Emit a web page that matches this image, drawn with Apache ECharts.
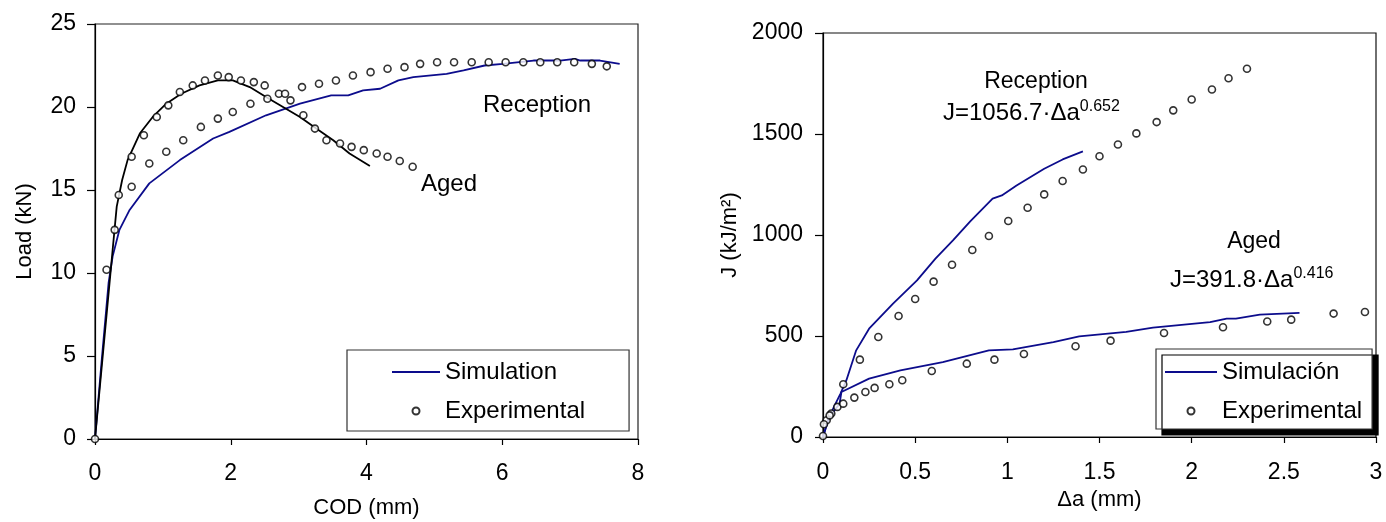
<!DOCTYPE html>
<html>
<head>
<meta charset="utf-8">
<script src="https://cdn.jsdelivr.net/npm/echarts@6/dist/echarts.min.js"></script>
<style>
  html, body { margin: 0; padding: 0; background: #fff; }
  #left { position: absolute; left: 0; top: 0; width: 693px; height: 522px; }
  #right { position: absolute; left: 693px; top: 0; width: 693px; height: 522px; }
</style>
</head>
<body>
<div id="left"></div>
<div id="right"></div>
<script>
// ---------- Left chart: Load vs COD ----------
const codTicks = [0, 2, 4, 6, 8];
const loadTicks = [0, 5, 10, 15, 20, 25];

const codSimReceptionX = [0, 0.1, 0.2, 0.26, 0.36, 0.51, 0.80, 1.25, 1.74, 1.98, 2.52, 3.02, 3.48, 3.73, 3.95, 4.20, 4.47, 4.69, 5.18, 5.43, 5.74, 6.01, 6.46, 6.85, 7.07, 7.15, 7.44, 7.73];
const codSimReceptionY = [0, 4.8, 9.4, 11.0, 12.6, 13.8, 15.4, 16.8, 18.1, 18.5, 19.5, 20.2, 20.7, 20.7, 21.0, 21.1, 21.6, 21.8, 22.0, 22.2, 22.5, 22.6, 22.8, 22.8, 22.9, 22.8, 22.8, 22.6];

const codSimAgedX = [0, 0.26, 0.32, 0.40, 0.48, 0.66, 0.85, 1.05, 1.27, 1.54, 1.81, 2.03, 2.28, 2.52, 2.77, 3.02, 3.26, 3.51, 3.75, 4.05];
const codSimAgedY = [0, 11.4, 14.0, 15.6, 16.8, 18.4, 19.4, 20.2, 20.8, 21.3, 21.6, 21.6, 21.2, 20.6, 20.0, 19.4, 18.7, 18.0, 17.2, 16.45];

const codExpAgedX = [0, 0.17, 0.29, 0.35, 0.54, 0.72, 0.91, 1.08, 1.25, 1.44, 1.62, 1.81, 1.97, 2.15, 2.34, 2.50, 2.71, 2.88, 3.07, 3.24, 3.41, 3.61, 3.78, 3.96, 4.15, 4.31, 4.49, 4.68];
const codExpAgedY = [0, 10.2, 12.6, 14.7, 17.0, 18.3, 19.4, 20.1, 20.9, 21.3, 21.6, 21.9, 21.8, 21.6, 21.5, 21.3, 20.8, 20.4, 19.5, 18.7, 18.0, 17.8, 17.6, 17.4, 17.2, 17.0, 16.75, 16.4];

const codExpReceptionX = [0.54, 0.80, 1.05, 1.30, 1.56, 1.81, 2.03, 2.29, 2.54, 2.80, 3.05, 3.30, 3.55, 3.80, 4.06, 4.31, 4.56, 4.79, 5.04, 5.29, 5.55, 5.80, 6.05, 6.31, 6.56, 6.81, 7.06, 7.32, 7.54];
const codExpReceptionY = [15.2, 16.6, 17.3, 18.0, 18.8, 19.3, 19.7, 20.2, 20.5, 20.8, 21.2, 21.4, 21.6, 21.9, 22.1, 22.3, 22.4, 22.6, 22.7, 22.7, 22.7, 22.7, 22.7, 22.7, 22.7, 22.7, 22.7, 22.6, 22.45];

// ---------- Right chart: J vs Δa ----------
const daTicks = [0, 0.5, 1, 1.5, 2, 2.5, 3];
const jTicks = [0, 500, 1000, 1500, 2000];

const jSimReceptionX = [0, 0.03, 0.06, 0.095, 0.127, 0.18, 0.25, 0.38, 0.51, 0.61, 0.705, 0.80, 0.92, 0.97, 1.05, 1.20, 1.30, 1.41];
const jSimReceptionY = [0, 90, 150, 215, 281, 429, 536, 660, 775, 883, 973, 1069, 1180, 1196, 1245, 1328, 1374, 1414];

const jSimAgedX = [0, 0.027, 0.063, 0.09, 0.10, 0.25, 0.42, 0.65, 0.90, 1.03, 1.25, 1.39, 1.645, 1.79, 2.10, 2.19, 2.24, 2.37, 2.585];
const jSimAgedY = [0, 83, 132, 165, 223, 289, 330, 371, 429, 434, 470, 498, 520, 541, 569, 586, 586, 606, 614];

const jExpReceptionX = [0, 0.02, 0.045, 0.11, 0.20, 0.30, 0.41, 0.50, 0.60, 0.70, 0.81, 0.90, 1.005, 1.11, 1.20, 1.30, 1.41, 1.50, 1.60, 1.70, 1.81, 1.90, 2.00, 2.11, 2.20, 2.30];
const jExpReceptionY = [5, 83, 116, 261, 383, 495, 599, 683, 769, 853, 926, 995, 1069, 1135, 1201, 1267, 1324, 1390, 1448, 1503, 1559, 1617, 1671, 1720, 1776, 1823];

const jExpAgedX = [0.005, 0.036, 0.078, 0.11, 0.17, 0.23, 0.28, 0.36, 0.43, 0.59, 0.78, 0.93, 1.09, 1.37, 1.56, 1.85, 2.17, 2.41, 2.54, 2.77, 2.94];
const jExpAgedY = [63, 107, 149, 165, 195, 223, 243, 261, 281, 327, 363, 383, 411, 449, 477, 515, 543, 572, 581, 611, 619];

// ---------- helpers ----------
const FONT = "'Liberation Sans', Arial, Helvetica, sans-serif";
const BLUE = '#0c0c8c';
const LINE_ICON = 'path://M0,0L48,0L48,2L0,2Z';
function pairs(xs, ys) { return xs.map((x, i) => [x, ys[i]]); }

function valueAxis(ticks, name, nameGap, labelMargin, tickLen) {
  return {
    type: 'value',
    min: ticks[0],
    max: ticks[ticks.length - 1],
    interval: ticks[1] - ticks[0],
    name: name,
    nameLocation: 'middle',
    nameGap: nameGap,
    nameTextStyle: { fontFamily: FONT, fontSize: 22, color: '#000' },
    axisLine: { show: true, onZero: false, lineStyle: { color: '#000', width: 1.2 } },
    axisTick: { show: true, inside: false, length: tickLen, lineStyle: { color: '#000', width: 1.2 } },
    axisLabel: { fontFamily: FONT, fontSize: 23, color: '#000', margin: labelMargin, formatter: v => String(v) },
    splitLine: { show: false }
  };
}

function lineSeries(name, xs, ys, color) {
  return {
    name: name, type: 'line', data: pairs(xs, ys),
    symbol: 'none', showSymbol: false, smooth: false,
    lineStyle: { color: color, width: 1.8 },
    itemStyle: { color: color },
    z: 2
  };
}
function expSeries(name, xs, ys) {
  return {
    name: name, type: 'scatter', data: pairs(xs, ys),
    symbol: 'circle', symbolSize: 7,
    itemStyle: { color: '#fff', borderColor: '#000', borderWidth: 1.6 },
    z: 3
  };
}
function label(text, x, y, size) {
  return { type: 'text', x: x, y: y, z: 10,
    style: { text: text, fontFamily: FONT, fontSize: size, fill: '#000', textAlign: 'center', textVerticalAlign: 'middle' } };
}
function formula(main, sup, x, y) {
  return { type: 'text', x: x, y: y, z: 10,
    style: {
      text: '{m|' + main + '}{s|' + sup + '}',
      textAlign: 'left', textVerticalAlign: 'middle',
      rich: {
        m: { fontFamily: FONT, fontSize: 24, fill: '#000', lineHeight: 28, verticalAlign: 'middle' },
        s: { fontFamily: FONT, fontSize: 16, fill: '#000', lineHeight: 16, verticalAlign: 'top' }
      }
    } };
}

// ---------- Left chart ----------
const leftChart = echarts.init(document.getElementById('left'), null, { renderer: 'canvas' });
leftChart.setOption({
  animation: false,
  backgroundColor: '#fff',
  textStyle: { fontFamily: FONT },
  grid: { left: 95, top: 24, width: 543, height: 415, show: true, borderColor: '#222', borderWidth: 1.2, backgroundColor: 'transparent', containLabel: false, outerBoundsMode: 'none' },
  xAxis: valueAxis(codTicks, 'COD (mm)', 58, 23, 6),
  yAxis: valueAxis(loadTicks, 'Load (kN)', 59, 19, 8),
  legend: {
    data: [{ name: 'Simulation', icon: LINE_ICON }, { name: 'Experimental' }],
    orient: 'vertical',
    left: 347, top: 350,
    padding: [9, 44, 7, 45],
    itemWidth: 48, itemHeight: 7, itemGap: 13,
    backgroundColor: '#fff',
    borderColor: '#333', borderWidth: 1.2, borderRadius: 0,
    textStyle: { fontFamily: FONT, fontSize: 24, color: '#000', lineHeight: 26 },
    selectedMode: true
  },
  series: [
    lineSeries('Simulation', codSimReceptionX, codSimReceptionY, BLUE),
    lineSeries('Simulation', codSimAgedX, codSimAgedY, '#000'),
    expSeries('Experimental', codExpAgedX, codExpAgedY),
    expSeries('Experimental', codExpReceptionX, codExpReceptionY)
  ],
  graphic: [
    label('Reception', 537, 105, 24),
    label('Aged', 449, 184, 24)
  ]
});

// ---------- Right chart ----------
const rightChart = echarts.init(document.getElementById('right'), null, { renderer: 'canvas' });
rightChart.setOption({
  animation: false,
  backgroundColor: '#fff',
  textStyle: { fontFamily: FONT },
  grid: { left: 130, top: 33, width: 553, height: 404, show: true, borderColor: '#111', borderWidth: 1.2, backgroundColor: 'transparent', containLabel: false, outerBoundsMode: 'none' },
  xAxis: valueAxis(daTicks, 'Δa (mm)', 50, 24, 6),
  yAxis: valueAxis(jTicks, 'J (kJ/m²)', 75, 20, 8),
  legend: {
    data: [{ name: 'Simulación', icon: 'path://M0,0L52,0L52,2L0,2Z' }, { name: 'Experimental' }],
    orient: 'vertical',
    left: 463, top: 349,
    padding: [10, 10, 5, 9],
    itemWidth: 52, itemHeight: 7, itemGap: 13,
    backgroundColor: '#fff',
    borderColor: '#333', borderWidth: 1.2, borderRadius: 0,
    shadowColor: '#000', shadowBlur: 0, shadowOffsetX: 6, shadowOffsetY: 6,
    textStyle: { fontFamily: FONT, fontSize: 24, color: '#000', lineHeight: 26 },
    selectedMode: true
  },
  series: [
    lineSeries('Simulación', jSimReceptionX, jSimReceptionY, BLUE),
    lineSeries('Simulación', jSimAgedX, jSimAgedY, BLUE),
    expSeries('Experimental', jExpReceptionX, jExpReceptionY),
    expSeries('Experimental', jExpAgedX, jExpAgedY)
  ],
  graphic: [
    label('Reception', 343, 82, 23),
    formula('J=1056.7·Δa', '0.652', 250, 113),
    label('Aged', 561, 242, 23),
    formula('J=391.8·Δa', '0.416', 477, 280)
  ]
});
</script>
</body>
</html>
